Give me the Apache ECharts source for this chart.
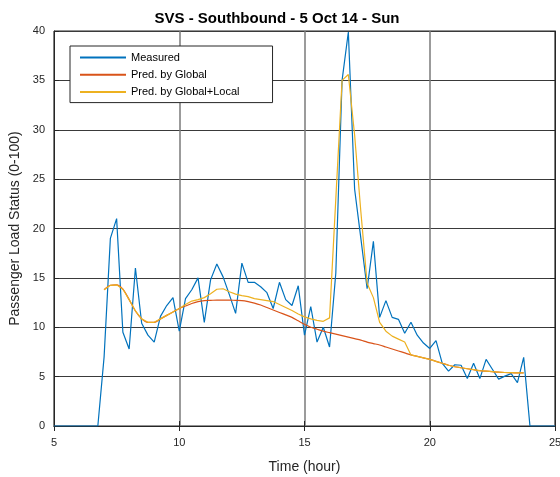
<!DOCTYPE html>
<html>
<head>
<meta charset="utf-8">
<script src="https://cdn.jsdelivr.net/npm/echarts@6/dist/echarts.min.js"></script>
<style>html,body{margin:0;padding:0;background:#fff;}#c{width:560px;height:477px;}</style>
</head>
<body>
<div id="c"></div>
<script>
var hours = [5,5.25,5.5,5.75,6,6.25,6.5,6.75,7,7.25,7.5,7.75,8,8.25,8.5,8.75,9,9.25,9.5,9.75,10,10.25,10.5,10.75,11,11.25,11.5,11.75,12,12.25,12.5,12.75,13,13.25,13.5,13.75,14,14.25,14.5,14.75,15,15.25,15.5,15.75,16,16.25,16.5,16.75,17,17.25,17.5,17.75,18,18.25,18.5,18.75,19,19.25,19.5,19.75,20,20.25,20.5,20.75,21,21.25,21.5,21.75,22,22.25,22.5,22.75,23,23.25,23.5,23.75,24,24.25,24.5,24.75,25];
var measured = [0,0,0,0,0,0,0,0,7.0,19.0,21.0,9.5,7.8,16.0,10.4,9.2,8.5,11.1,12.2,13.0,9.6,12.9,13.8,15.0,10.5,14.8,16.4,15.1,13.3,11.4,16.5,14.55,14.55,14.1,13.5,11.9,14.55,12.8,12.2,14.2,9.2,12.1,8.5,10.0,8.0,15.5,35.0,39.9,24.0,19.0,13.9,18.7,11.0,12.7,11.0,10.8,9.4,10.5,9.2,8.4,7.85,8.65,6.35,5.55,6.2,6.15,4.8,6.35,4.8,6.75,5.75,4.75,5.05,5.3,4.4,6.95,0,0,0,0,0];
var predGlobal = [null,null,null,null,null,null,null,null,13.8,14.25,14.3,13.85,12.8,11.65,10.85,10.5,10.5,10.85,11.2,11.55,11.9,12.15,12.4,12.6,12.7,12.72,12.75,12.75,12.75,12.72,12.7,12.6,12.45,12.25,12.0,11.75,11.5,11.25,11.0,10.65,10.3,10.0,9.8,9.6,9.45,9.3,9.15,9.0,8.85,8.7,8.5,8.35,8.2,8.0,7.8,7.6,7.4,7.2,7.05,6.9,6.75,6.55,6.35,6.15,6.0,5.9,5.8,5.7,5.6,5.55,5.5,5.45,5.42,5.4,5.38,5.37,null,null,null,null,null];
var predLocal = [null,null,null,null,null,null,null,null,13.8,14.25,14.3,13.85,12.8,11.65,10.85,10.5,10.5,10.85,11.2,11.55,11.9,12.3,12.65,12.8,13.0,13.4,13.85,13.9,13.6,13.35,13.2,13.1,12.9,12.8,12.7,12.6,12.3,12.0,11.7,11.35,11.05,10.85,10.7,10.6,10.95,23.0,35.0,35.6,29.5,21.7,14.45,13.0,10.5,9.6,9.1,8.8,8.5,7.2,7.05,6.9,6.75,6.55,6.35,6.15,6.0,5.9,5.8,5.7,5.6,5.55,5.5,5.45,5.42,5.4,5.38,5.37,null,null,null,null,null];
var xTicks = [5,10,15,20,25];
var yTicks = [0,5,10,15,20,25,30,35,40];

function pairs(v){ var out=[]; for(var i=0;i<hours.length;i++){ out.push([hours[i], v[i]]); } return out; }

var font = 'Liberation Sans, Arial, Helvetica, sans-serif';
var chart = echarts.init(document.getElementById('c'), null, {renderer:'canvas'});
chart.setOption({
  animation:false,
  backgroundColor:'#fff',
  title:{text:'SVS - Southbound - 5 Oct 14 - Sun', left:272, top:6, textAlign:'center',
    textStyle:{fontFamily:font, fontSize:15, fontWeight:'bold', color:'#000'}},
  grid:{left:54, right:5, top:31, bottom:51, show:true, borderColor:'#262626', borderWidth:1, containLabel:false, outerBoundsMode:'none'},
  legend:{orient:'vertical', left:70, top:46, itemWidth:46, itemHeight:14, itemGap:6,
    padding:[6,33,5,9], borderColor:'#262626', borderWidth:1, backgroundColor:'#fff',
    itemStyle:{opacity:0},
    textStyle:{fontFamily:font, fontSize:11, color:'#000'},
    data:['Measured','Pred. by Global','Pred. by Global+Local']},
  xAxis:[{type:'value', min:5, max:25, interval:5,
    name:'Time (hour)', nameLocation:'middle', nameGap:34,
    nameTextStyle:{fontFamily:font, fontSize:14, color:'#262626'},
    axisLine:{show:true, lineStyle:{color:'#262626'}},
    axisTick:{show:true, inside:true, length:5, lineStyle:{color:'#262626'}},
    axisLabel:{fontFamily:font, fontSize:11, color:'#262626', margin:11,
      formatter:function(v){return xTicks.indexOf(v)>=0? String(v):'';}},
    splitLine:{show:true, lineStyle:{color:'#7a7a7a', width:1.5}}},
   {type:'value', position:'top', min:5, max:25, interval:5,
    axisLine:{show:true, lineStyle:{color:'#262626'}},
    axisTick:{show:true, inside:true, length:5, lineStyle:{color:'#262626'}},
    axisLabel:{show:false}, splitLine:{show:false}}],
  yAxis:[{type:'value', min:0, max:40, interval:5,
    name:'Passenger Load Status (0-100)', nameLocation:'middle', nameGap:31,
    nameTextStyle:{fontFamily:font, fontSize:14, color:'#262626'},
    axisLine:{show:true, lineStyle:{color:'#262626'}},
    axisTick:{show:true, inside:true, length:5, lineStyle:{color:'#262626'}},
    axisLabel:{fontFamily:font, fontSize:11, color:'#262626', margin:9,
      formatter:function(v){return yTicks.indexOf(v)>=0? String(v):'';}},
    splitLine:{show:true, lineStyle:{color:'#3a3a3a', width:1}}},
   {type:'value', position:'right', min:0, max:40, interval:5,
    axisLine:{show:true, lineStyle:{color:'#262626'}},
    axisTick:{show:true, inside:true, length:5, lineStyle:{color:'#262626'}},
    axisLabel:{show:false}, splitLine:{show:false}}],
  series:[
    {name:'Measured', type:'line', data:pairs(measured), symbol:'none', showSymbol:false,
      lineStyle:{color:'#0072BD', width:1.2}, itemStyle:{color:'#0072BD'}, z:2},
    {name:'Pred. by Global', type:'line', data:pairs(predGlobal), symbol:'none', showSymbol:false, smooth:0.3,
      lineStyle:{color:'#D95319', width:1.2}, itemStyle:{color:'#D95319'}, z:3},
    {name:'Pred. by Global+Local', type:'line', data:pairs(predLocal), symbol:'none', showSymbol:false,
      lineStyle:{color:'#EDB120', width:1.2}, itemStyle:{color:'#EDB120'}, z:4}
  ]
});
</script>
</body>
</html>
